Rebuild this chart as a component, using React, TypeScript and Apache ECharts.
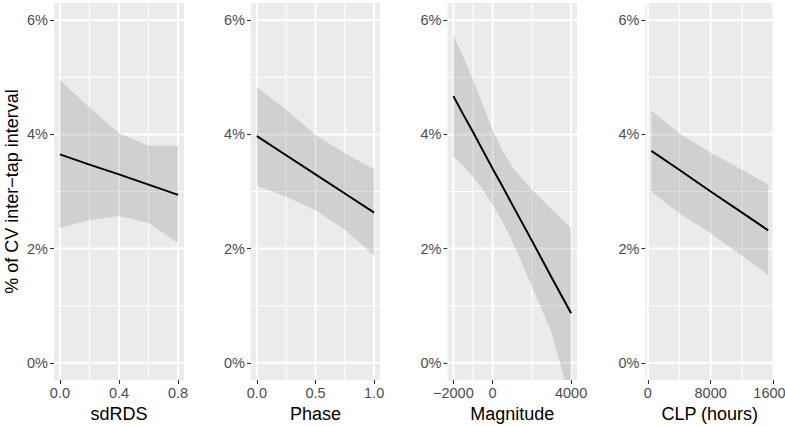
import React, { useEffect, useRef } from "react";
import * as echarts from "echarts";

// ---- data ----
const yTicks = [0, 2, 4, 6];
const yMinor = [1, 3, 5];
const yTitle = "% of CV inter\u2212tap interval";

const sdrdsX = [0, 0.2, 0.4, 0.6, 0.8];
const sdrdsFit = [3.65, 3.47, 3.3, 3.12, 2.94];
const sdrdsUpper = [4.95, 4.47, 4.02, 3.8, 3.8];
const sdrdsLower = [2.36, 2.5, 2.57, 2.45, 2.1];
const sdrdsTicks = [0, 0.4, 0.8];
const sdrdsTickLabels = ["0.0", "0.4", "0.8"];
const sdrdsMinor = [0.2, 0.6];

const phaseX = [0, 0.25, 0.5, 0.75, 1.0];
const phaseFit = [3.97, 3.635, 3.3, 2.965, 2.63];
const phaseUpper = [4.83, 4.43, 3.99, 3.67, 3.39];
const phaseLower = [3.1, 2.91, 2.67, 2.33, 1.88];
const phaseTicks = [0, 0.5, 1.0];
const phaseTickLabels = ["0.0", "0.5", "1.0"];
const phaseMinor = [0.25, 0.75];

const magX = [-2000, -1500, -1000, -500, 0, 500, 1000, 2000, 3000, 4000];
const magFit = [4.67, 4.35, 4.04, 3.72, 3.4, 3.09, 2.77, 2.14, 1.5, 0.87];
const magUpper = [5.74, 5.36, 4.96, 4.52, 4.08, 3.72, 3.43, 3.03, 2.69, 2.36];
const magLower = [3.61, 3.45, 3.26, 3.03, 2.77, 2.47, 2.13, 1.34, 0.53, -0.7];
const magTicks = [-2000, 0, 4000];
const magTickLabels = ["\u22122000", "0", "4000"];
const magMinor = [-1000, 2000];

const clpX = [450, 4000, 8000, 12000, 15320];
const clpFit = [3.71, 3.38, 3.0, 2.63, 2.32];
const clpUpper = [4.42, 4.02, 3.68, 3.38, 3.12];
const clpLower = [3.0, 2.62, 2.27, 1.87, 1.54];
const clpTicks = [0, 8000, 16000];
const clpTickLabels = ["0", "8000", "16000"];
const clpMinor = [4000, 12000];

type Panel = {
  name: string;
  x: number[];
  fit: number[];
  upper: number[];
  lower: number[];
  ticks: number[];
  labels: string[];
  minor: number[];
};

const panels: Panel[] = [
  { name: "sdRDS", x: sdrdsX, fit: sdrdsFit, upper: sdrdsUpper, lower: sdrdsLower, ticks: sdrdsTicks, labels: sdrdsTickLabels, minor: sdrdsMinor },
  { name: "Phase", x: phaseX, fit: phaseFit, upper: phaseUpper, lower: phaseLower, ticks: phaseTicks, labels: phaseTickLabels, minor: phaseMinor },
  { name: "Magnitude", x: magX, fit: magFit, upper: magUpper, lower: magLower, ticks: magTicks, labels: magTickLabels, minor: magMinor },
  { name: "CLP (hours)", x: clpX, fit: clpFit, upper: clpUpper, lower: clpLower, ticks: clpTicks, labels: clpTickLabels, minor: clpMinor },
];

// layout (pixels)
const gridBoxes = [
  { left: 54, width: 130 },
  { left: 251, width: 129 },
  { left: 447.5, width: 129.5 },
  { left: 645.5, width: 128.5 },
];
const gridTop = 3;
const gridHeight = 377;

const FONT = "Liberation Sans, Arial, Helvetica, sans-serif";
const BG = "#EBEBEB";
const RIBBON = "rgba(153,153,153,0.32)";
const GRIDLINE = "#FFFFFF";
const MAJOR_W = 2;
const MINOR_W = 1.1;

function extent(xs: number[]) {
  const lo = Math.min(...xs);
  const hi = Math.max(...xs);
  const pad = (hi - lo) * 0.05;
  return [lo - pad, hi + pad];
}

function buildOption() {
  const yData = [...yTicks, ...yMinor];
  const yLo = Math.min(...yData);
  const yHi = Math.max(...yData);
  const yPad = (yHi - yLo) * 0.05;
  const yMin = yLo - yPad;
  const yMax = yHi + yPad;

  const grid: any[] = [];
  const xAxis: any[] = [];
  const yAxis: any[] = [];
  const series: any[] = [];

  panels.forEach((p, i) => {
    const [xMin, xMax] = extent(p.x);
    grid.push({
      left: gridBoxes[i].left,
      width: gridBoxes[i].width,
      top: gridTop,
      height: gridHeight,
      show: true,
      backgroundColor: BG,
      borderWidth: 0,
      containLabel: false,
      outerBoundsMode: "none",
    });
    xAxis.push({
      type: "value",
      gridIndex: i,
      min: xMin,
      max: xMax,
      position: "bottom",
      axisLine: { show: false, onZero: false },
      axisTick: {
        show: true,
        length: 4,
        customValues: p.ticks,
        lineStyle: { color: "#333333", width: 1.1 },
      },
      axisLabel: {
        customValues: p.ticks,
        formatter: (v: number) => {
          const k = p.ticks.findIndex((t) => Math.abs(t - v) < 1e-6 * Math.max(1, Math.abs(t)));
          return k >= 0 ? p.labels[k] : String(v);
        },
        color: "#4D4D4D",
        fontSize: 14.5,
        fontFamily: FONT,
        margin: 5,
        hideOverlap: false,
      },
      splitLine: { show: false },
      name: p.name,
      nameLocation: "middle",
      nameGap: 21,
      nameTextStyle: { color: "#000000", fontSize: 18, fontFamily: FONT },
    });
    const yMain: any = {
      type: "value",
      gridIndex: i,
      min: yMin,
      max: yMax,
      position: "left",
      axisLine: { show: false, onZero: false },
      axisTick: {
        show: true,
        length: 4,
        customValues: yTicks,
        lineStyle: { color: "#333333", width: 1.1 },
      },
      axisLabel: {
        customValues: yTicks,
        formatter: (v: number) => Math.round(v) + "%",
        color: "#4D4D4D",
        fontSize: 14.5,
        fontFamily: FONT,
        margin: 6,
      },
      splitLine: { show: false },
    };
    if (i === 0) {
      yMain.name = yTitle;
      yMain.nameLocation = "middle";
      yMain.nameRotate = 90;
      yMain.nameGap = 33;
      yMain.nameTextStyle = { color: "#000000", fontSize: 18, fontFamily: FONT };
    }
    yAxis.push(yMain);

    // panel grid lines (ggplot-style major + minor), placed through the axis scales
    series.push({
      type: "custom",
      xAxisIndex: i,
      yAxisIndex: i,
      clip: true,
      silent: true,
      z: 1,
      data: [[p.x[0], p.fit[0]]],
      encode: { x: 0, y: 1 },
      renderItem: (_params: any, api: any) => {
        const children: any[] = [];
        const seg = (a: number[], b: number[], w: number) => {
          children.push({
            type: "line",
            shape: { x1: a[0], y1: a[1], x2: b[0], y2: b[1] },
            style: { stroke: GRIDLINE, lineWidth: w, fill: null },
          });
        };
        p.minor.forEach((x) => seg(api.coord([x, yMin]), api.coord([x, yMax]), MINOR_W));
        yMinor.forEach((y) => seg(api.coord([xMin, y]), api.coord([xMax, y]), MINOR_W));
        p.ticks.forEach((x) => seg(api.coord([x, yMin]), api.coord([x, yMax]), MAJOR_W));
        yTicks.forEach((y) => seg(api.coord([xMin, y]), api.coord([xMax, y]), MAJOR_W));
        return { type: "group", children };
      },
    });

    series.push({
      type: "custom",
      xAxisIndex: i,
      yAxisIndex: i,
      clip: true,
      silent: true,
      z: 2,
      data: [[p.x[0], p.fit[0]]],
      encode: { x: 0, y: 1 },
      renderItem: (_params: any, api: any) => {
        const pts: number[][] = [];
        for (let k = 0; k < p.x.length; k++) pts.push(api.coord([p.x[k], p.upper[k]]));
        for (let k = p.x.length - 1; k >= 0; k--) pts.push(api.coord([p.x[k], p.lower[k]]));
        return {
          type: "polygon",
          shape: { points: pts },
          style: { fill: RIBBON },
        };
      },
    });
    series.push({
      type: "line",
      xAxisIndex: i,
      yAxisIndex: i,
      z: 3,
      data: p.x.map((x, k) => [x, p.fit[k]]),
      showSymbol: false,
      symbol: "none",
      clip: true,
      lineStyle: { color: "#000000", width: 2 },
      silent: true,
    });
  });

  return {
    animation: false,
    backgroundColor: "#FFFFFF",
    textStyle: { fontFamily: FONT },
    grid,
    xAxis,
    yAxis,
    series,
  };
}

export default function App() {
  const ref = useRef<HTMLDivElement>(null);
  useEffect(() => {
    if (!ref.current) return;
    const chart = echarts.init(ref.current, null, { renderer: "svg" });
    chart.setOption(buildOption() as any);
    return () => chart.dispose();
  }, []);
  return (
    <div
      ref={ref}
      style={{ position: "absolute", left: 0, top: 0, width: 785, height: 426 }}
    />
  );
}
